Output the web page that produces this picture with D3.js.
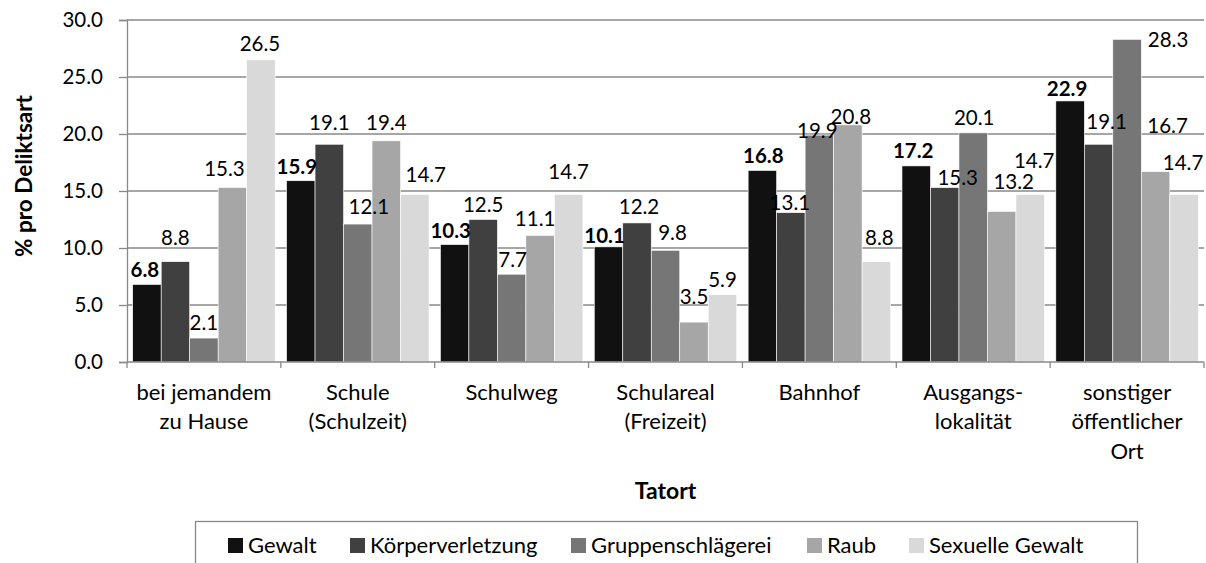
<!DOCTYPE html>
<html>
<head>
<meta charset="utf-8">
<script src="https://cdn.jsdelivr.net/npm/d3@7"></script>
<style>
  body { margin: 0; background: #fff; }
  svg { display: block; font-family: Lato, "Open Sans", sans-serif; }
</style>
</head>
<body>
<div id="chart"></div>
<script>
// data
const categories = ['bei jemandem\nzu Hause', 'Schule\n(Schulzeit)', 'Schulweg', 'Schulareal\n(Freizeit)',
    'Bahnhof', 'Ausgangs-\nlokalität', 'sonstiger\nöffentlicher\nOrt'];
const seriesNames = ['Gewalt', 'Körperverletzung', 'Gruppenschlägerei', 'Raub', 'Sexuelle Gewalt'];
const gewalt = [6.8, 15.9, 10.3, 10.1, 16.8, 17.2, 22.9];
const koerperverletzung = [8.8, 19.1, 12.5, 12.2, 13.1, 15.3, 19.1];
const gruppenschlaegerei = [2.1, 12.1, 7.7, 9.8, 19.9, 20.1, 28.3];
const raub = [15.3, 19.4, 11.1, 3.5, 20.8, 13.2, 16.7];
const sexuelleGewalt = [26.5, 14.7, 14.7, 5.9, 8.8, 14.7, 14.7];
const yTicks = [0, 5, 10, 15, 20, 25, 30];

const seriesValues = [gewalt, koerperverletzung, gruppenschlaegerei, raub, sexuelleGewalt];
const colors = ['#111111', '#404040', '#767676', '#a6a6a6', '#d9d9d9'];

// manual nudges of the data labels (as moved in the original), [dx, dy] per category, per series
const labelNudge = [
    [[-2, 0], [0, -9], [0, 0], [-8, -4], [-1, -1]],
    [[-4, 1], [0, -6], [11, -2], [0, -3], [11, -5]],
    [[-4, 1], [0, 0], [1, 1], [-5, -2], [0, -8]],
    [[-4, 4], [2, -1], [7, -2], [0, -10], [0, 0]],
    [[1, 0], [-1, 5], [-2, 11], [3, 7], [3, -9]],
    [[-3, 0], [13, 5], [1, 0], [12, -15], [4, -19]],
    [[-3, 3], [8, -7], [41, 15], [12, -31], [-1, -17]]
];

const W = 1206, H = 563;
const margin = { top: 20, right: 2, bottom: 201, left: 127 };
const width = W - margin.left - margin.right;
const height = H - margin.top - margin.bottom;

const rows = categories.map((c, i) => ({
    cat: c,
    values: seriesNames.map((s, j) => ({ series: s, j: j, value: seriesValues[j][i], nudge: labelNudge[i][j] }))
}));

const x0 = d3.scaleBand().domain(categories).range([0, width]).padding(0);
const bw = x0.bandwidth();
const gap = bw * 0.4 / 5.4;
const x1 = d3.scaleBand().domain(seriesNames).range([gap / 2, bw - gap / 2]).padding(0);
const y = d3.scaleLinear().domain([0, 30]).range([height, 0]);
const color = d3.scaleOrdinal().domain(seriesNames).range(colors);

const svg = d3.select('#chart').append('svg')
    .attr('width', W)
    .attr('height', H);

const g = svg.append('g')
    .attr('transform', `translate(${margin.left},${margin.top})`);

// gridlines
g.append('g')
    .selectAll('line')
    .data(yTicks.filter(t => t > 0))
    .enter().append('line')
    .attr('x1', 0)
    .attr('x2', width)
    .attr('y1', d => y(d))
    .attr('y2', d => y(d))
    .attr('stroke', '#888')
    .attr('stroke-width', 1.3);

// y axis
const yAxis = g.append('g')
    .call(d3.axisLeft(y).tickValues(yTicks).tickFormat(d3.format('.1f')).tickSizeOuter(0).tickSize(8).tickPadding(16));
yAxis.select('.domain').attr('stroke', '#888').attr('stroke-width', 1.3);
yAxis.selectAll('.tick line').attr('stroke', '#888').attr('stroke-width', 1.3);
yAxis.selectAll('.tick text')
    .attr('font-size', 20.5)
    .attr('fill', '#000')
    .style('font-family', 'Lato, sans-serif');

// bars
const groups = g.selectAll('.grp')
    .data(rows)
    .enter().append('g')
    .attr('class', 'grp')
    .attr('transform', d => `translate(${x0(d.cat)},0)`);

groups.selectAll('rect')
    .data(d => d.values)
    .enter().append('rect')
    .attr('x', d => x1(d.series))
    .attr('width', x1.bandwidth())
    .attr('y', d => y(d.value))
    .attr('height', d => y(0) - y(d.value))
    .attr('fill', d => color(d.series))
    .attr('stroke', '#fff')
    .attr('stroke-width', 0.6);

// data labels
groups.selectAll('text.lbl')
    .data(d => d.values)
    .enter().append('text')
    .attr('class', 'lbl')
    .attr('x', d => x1(d.series) + x1.bandwidth() / 2 + d.nudge[0])
    .attr('y', d => y(d.value) - 15 + d.nudge[1])
    .attr('dy', '0.35em')
    .attr('text-anchor', 'middle')
    .attr('font-size', 20.5)
    .attr('font-weight', d => d.j === 0 ? 'bold' : 'normal')
    .text(d => d3.format('.1f')(d.value));

// x axis
const xAxisG = g.append('g').attr('transform', `translate(0,${height})`);
xAxisG.append('line')
    .attr('x1', 0).attr('x2', width)
    .attr('y1', 0).attr('y2', 0)
    .attr('stroke', '#888').attr('stroke-width', 1.3);
xAxisG.selectAll('line.tk')
    .data(d3.range(categories.length + 1))
    .enter().append('line')
    .attr('class', 'tk')
    .attr('x1', i => i * bw).attr('x2', i => i * bw)
    .attr('y1', 0).attr('y2', 6)
    .attr('stroke', '#888').attr('stroke-width', 1.3);

const catText = xAxisG.selectAll('text.cat')
    .data(categories)
    .enter().append('text')
    .attr('class', 'cat')
    .attr('x', d => x0(d) + bw / 2)
    .attr('y', 30)
    .attr('text-anchor', 'middle')
    .attr('font-size', 22);
catText.selectAll('tspan')
    .data(d => d.split('\n').map(t => ({ t: t, x: x0(d) + bw / 2 })))
    .enter().append('tspan')
    .attr('x', d => d.x)
    .attr('dy', (d, i) => i === 0 ? '0.35em' : 29.5)
    .text(d => d.t);

// axis titles
svg.append('text')
    .attr('transform', 'translate(24,176) rotate(-90)')
    .attr('text-anchor', 'middle')
    .attr('dy', '0.35em')
    .attr('font-size', 22.5)
    .attr('font-weight', 'bold')
    .text('% pro Deliktsart');

svg.append('text')
    .attr('x', margin.left + width / 2)
    .attr('y', 491)
    .attr('dy', '0.35em')
    .attr('text-anchor', 'middle')
    .attr('font-size', 23)
    .attr('font-weight', 'bold')
    .text('Tatort');

// legend
svg.append('rect')
    .attr('x', 195.5)
    .attr('y', 521.5)
    .attr('width', 942)
    .attr('height', 60)
    .attr('fill', '#fff')
    .attr('stroke', '#888')
    .attr('stroke-width', 1.3);

const legendX = [228, 350, 571, 807, 909];
const legend = svg.selectAll('.legend')
    .data(seriesNames)
    .enter().append('g')
    .attr('class', 'legend')
    .attr('transform', (d, i) => `translate(${legendX[i]},538)`);

legend.append('rect')
    .attr('width', 15)
    .attr('height', 15)
    .attr('fill', color);

legend.append('text')
    .attr('x', 20)
    .attr('y', 7.5)
    .attr('dy', '0.35em')
    .attr('font-size', 22)
    .text(d => d);
</script>
</body>
</html>
